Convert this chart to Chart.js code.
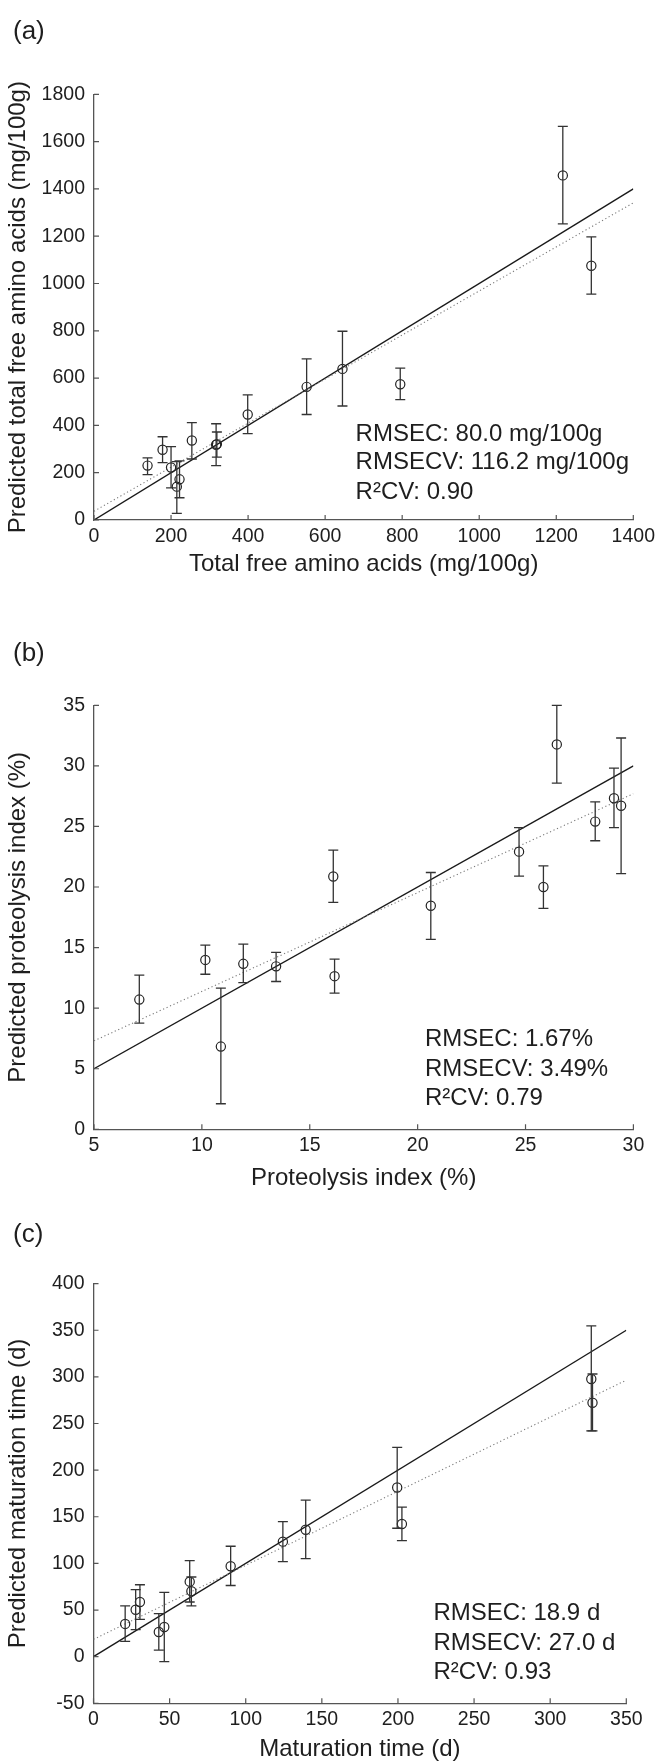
<!DOCTYPE html>
<html><head><meta charset="utf-8">
<script src="https://cdn.jsdelivr.net/npm/chart.js@4.4.1/dist/chart.umd.min.js"></script>
<style>
html,body{margin:0;padding:0;background:#fff;}
#wrap{position:relative;width:660px;height:1762px;overflow:hidden;}
.pane{position:absolute;left:0;width:660px;}
canvas{display:block;}
</style></head><body>
<div id="wrap">
<div class="pane" style="top:0px;height:585px"><canvas id="ca" width="660" height="585"></canvas></div>
<div class="pane" style="top:585px;height:605px"><canvas id="cb" width="660" height="605"></canvas></div>
<div class="pane" style="top:1190px;height:572px"><canvas id="cc" width="660" height="572"></canvas></div>
</div>
<script>
// ---- Panel (a): total free amino acids (mg/100g)
const aMeasured  = [139, 178, 200, 215, 222, 254, 317, 319, 399, 552, 645, 795, 1217, 1291];
const aPredicted = [230, 297, 222, 141, 172, 336, 318, 321, 446, 563, 639, 574, 1457, 1075];
const aErrHigh   = [263, 352, 310, 247, 250, 412, 407, 372, 529, 681, 798, 642, 1664, 1197];
const aErrLow    = [192, 243, 136, 28, 94, 258, 230, 266, 365, 446, 482, 509, 1252, 955];
const aIdealX = [0, 1400], aIdealY = [0, 1400];
const aFitX = [0, 1400], aFitY = [37, 1341];
const aNotes = ["RMSEC: 80.0 mg/100g", "RMSECV: 116.2 mg/100g", "R\u00B2CV: 0.90"];

// ---- Panel (b): proteolysis index (%)
const bMeasured  = [7.10, 10.16, 10.88, 11.92, 13.44, 16.09, 16.15, 20.61, 24.70, 25.83, 26.45, 28.23, 29.10, 29.43];
const bPredicted = [10.71, 13.98, 6.83, 13.66, 13.45, 20.87, 12.64, 18.45, 22.92, 20.0, 31.77, 25.40, 27.33, 26.71];
const bErrHigh   = [12.73, 15.2, 11.65, 15.28, 14.6, 23.04, 14.04, 21.2, 24.9, 21.74, 35.0, 27.02, 29.81, 32.3];
const bErrLow    = [8.76, 12.8, 2.11, 12.11, 12.2, 18.73, 11.24, 15.68, 20.9, 18.23, 28.57, 23.82, 24.9, 21.1];
const bIdealX = [5, 30], bIdealY = [5, 30];
const bFitX = [5, 30], bFitY = [7.3, 27.7];
const bNotes = ["RMSEC: 1.67%", "RMSECV: 3.49%", "R\u00B2CV: 0.79"];

// ---- Panel (c): maturation time (d)
const cMeasured  = [20.8, 27.7, 30.5, 42.9, 46.5, 63.2, 64.3, 90.1, 124.4, 139.4, 199.5, 202.6, 327.0, 327.8];
const cPredicted = [35.1, 50.3, 58.6, 26.4, 31.8, 80.4, 70.1, 96.9, 123.3, 136.1, 181.4, 142.3, 297.7, 272.2];
const cErrHigh   = [54.4, 71.8, 77.1, 46.2, 68.9, 103, 85.4, 118.4, 144.7, 167.8, 224.3, 160.4, 354.6, 303.1];
const cErrLow    = [16.5, 28.9, 40.0, 7.0, -5.4, 58.6, 54.4, 76.3, 101.9, 105.2, 137.7, 124.5, 242.1, 242.1];
const cIdealX = [0, 350], cIdealY = [0, 350];
const cFitX = [0, 350], cFitY = [18.6, 296.5];
const cNotes = ["RMSEC: 18.9 d", "RMSECV: 27.0 d", "R\u00B2CV: 0.93"];

const FONT = "'Liberation Sans', Arial, Helvetica, sans-serif";
const TXT = '#1e1e1e';

function pts(xs, ys){ return xs.map((x,i)=>({x:x, y:ys[i]})); }
const plain = v => String(v);

function makePanel(id, c){
  const H = c.H;
  const errPlugin = {
    id: 'err_' + id,
    afterDatasetsDraw(chart){
      const ctx = chart.ctx, xs = chart.scales.x, ys = chart.scales.y;
      ctx.save();
      ctx.strokeStyle = '#333'; ctx.lineWidth = 1.3;
      c.xs.forEach((v,i)=>{
        const px = xs.getPixelForValue(v);
        const ph = ys.getPixelForValue(c.hi[i]);
        const pl = ys.getPixelForValue(c.lo[i]);
        ctx.beginPath();
        ctx.moveTo(px, ph); ctx.lineTo(px, pl);
        ctx.moveTo(px-5, ph); ctx.lineTo(px+5, ph);
        ctx.moveTo(px-5, pl); ctx.lineTo(px+5, pl);
        ctx.stroke();
      });
      ctx.restore();
    },
    afterDraw(chart){
      const ctx = chart.ctx, xs = chart.scales.x, ys = chart.scales.y;
      const a = chart.chartArea;
      ctx.save();
      ctx.strokeStyle = '#555'; ctx.lineWidth = 1.2;
      ctx.beginPath();
      xs.ticks.forEach(t=>{ const p = xs.getPixelForValue(t.value); ctx.moveTo(p, a.bottom); ctx.lineTo(p, a.bottom-5); });
      ys.ticks.forEach(t=>{ const p = ys.getPixelForValue(t.value); ctx.moveTo(a.left, p); ctx.lineTo(a.left+5, p); });
      ctx.stroke();
      ctx.fillStyle = TXT;
      ctx.textBaseline = 'middle'; ctx.textAlign = 'left';
      ctx.font = '26px ' + FONT;
      ctx.fillText(c.label, 13, c.labelY);
      ctx.font = '24px ' + FONT;
      c.notes.forEach((s,i)=> ctx.fillText(s, c.noteX, c.noteY[i]));
      ctx.restore();
    }
  };
  return new Chart(document.getElementById(id), {
    type: 'scatter',
    data: { datasets: [
      { data: pts(c.xs, c.ys), pointStyle: 'circle', pointRadius: 4.6, pointHoverRadius: 4.6,
        borderColor: '#222', backgroundColor: 'rgba(255,255,255,0)', pointBorderWidth: 1.2, borderWidth: 1.2, showLine: false, order: 0 },
      { type: 'line', data: pts(c.idealX, c.idealY), borderColor: '#1a1a1a', borderWidth: 1.4, pointRadius: 0, fill: false, order: 2 },
      { type: 'line', data: pts(c.fitX, c.fitY), borderColor: '#7a7a7a', borderWidth: 1.1, borderDash: [1.2, 2.6], pointRadius: 0, fill: false, order: 1 }
    ]},
    options: {
      responsive: false, animation: false, devicePixelRatio: 1,
      layout: { padding: { left: 0, top: c.area.top, right: 660 - c.area.right, bottom: 0 } },
      plugins: { legend: { display: false }, tooltip: { enabled: false } },
      events: [],
      scales: {
        x: {
          type: 'linear', min: c.xMin, max: c.xMax,
          afterFit(s){ s.height = H - c.area.bottom; },
          grid: { display: false, drawTicks: false },
          border: { display: true, color: '#555', width: 1.3 },
          ticks: { stepSize: c.xStep, autoSkip: false, maxRotation: 0, padding: 5, color: TXT, callback: plain, font: { family: FONT, size: 19.5 } },
          title: { display: true, text: c.xTitle, color: TXT, font: { family: FONT, size: 24, lineHeight: 1 }, padding: { top: 0, bottom: c.xTitlePad } }
        },
        y: {
          type: 'linear', min: c.yMin, max: c.yMax,
          afterFit(s){ s.width = c.area.left; },
          grid: { display: false, drawTicks: false },
          border: { display: true, color: '#555', width: 1.3 },
          ticks: { stepSize: c.yStep, autoSkip: false, padding: 9, color: TXT, callback: plain, font: { family: FONT, size: 19.5 } },
          title: { display: true, text: c.yTitle, color: TXT, font: { family: FONT, size: 24, lineHeight: 1 }, padding: { top: 6.5, bottom: 0 } }
        }
      }
    },
    plugins: [errPlugin]
  });
}

makePanel('ca', {
  H: 585, area: { left: 94, top: 94.3, right: 633.4, bottom: 520 },
  xs: aMeasured, ys: aPredicted, hi: aErrHigh, lo: aErrLow,
  idealX: aIdealX, idealY: aIdealY, fitX: aFitX, fitY: aFitY,
  xMin: 0, xMax: 1400, xStep: 200, yMin: 0, yMax: 1800, yStep: 200,
  xTitle: 'Total free amino acids (mg/100g)', yTitle: 'Predicted total free amino acids (mg/100g)', xTitlePad: 9,
  label: '(a)', labelY: 31.7, notes: aNotes, noteX: 355.6, noteY: [434.7, 462.4, 492.0]
});
makePanel('cb', {
  H: 605, area: { left: 94, top: 120.3, right: 633.4, bottom: 544.3 },
  xs: bMeasured, ys: bPredicted, hi: bErrHigh, lo: bErrLow,
  idealX: bIdealX, idealY: bIdealY, fitX: bFitX, fitY: bFitY,
  xMin: 5, xMax: 30, xStep: 5, yMin: 0, yMax: 35, yStep: 5,
  xTitle: 'Proteolysis index (%)', yTitle: 'Predicted proteolysis index (%)', xTitlePad: 0,
  label: '(b)', labelY: 68.4, notes: bNotes, noteX: 425, noteY: [454.7, 484.1, 513.4]
});
makePanel('cc', {
  H: 572, area: { left: 93.5, top: 93.6, right: 626.3, bottom: 513.3 },
  xs: cMeasured, ys: cPredicted, hi: cErrHigh, lo: cErrLow,
  idealX: cIdealX, idealY: cIdealY, fitX: cFitX, fitY: cFitY,
  xMin: 0, xMax: 350, xStep: 50, yMin: -50, yMax: 400, yStep: 50,
  xTitle: 'Maturation time (d)', yTitle: 'Predicted maturation time (d)', xTitlePad: 1,
  label: '(c)', labelY: 45, notes: cNotes, noteX: 433.5, noteY: [423, 453, 482.5]
});
</script>
</body></html>
